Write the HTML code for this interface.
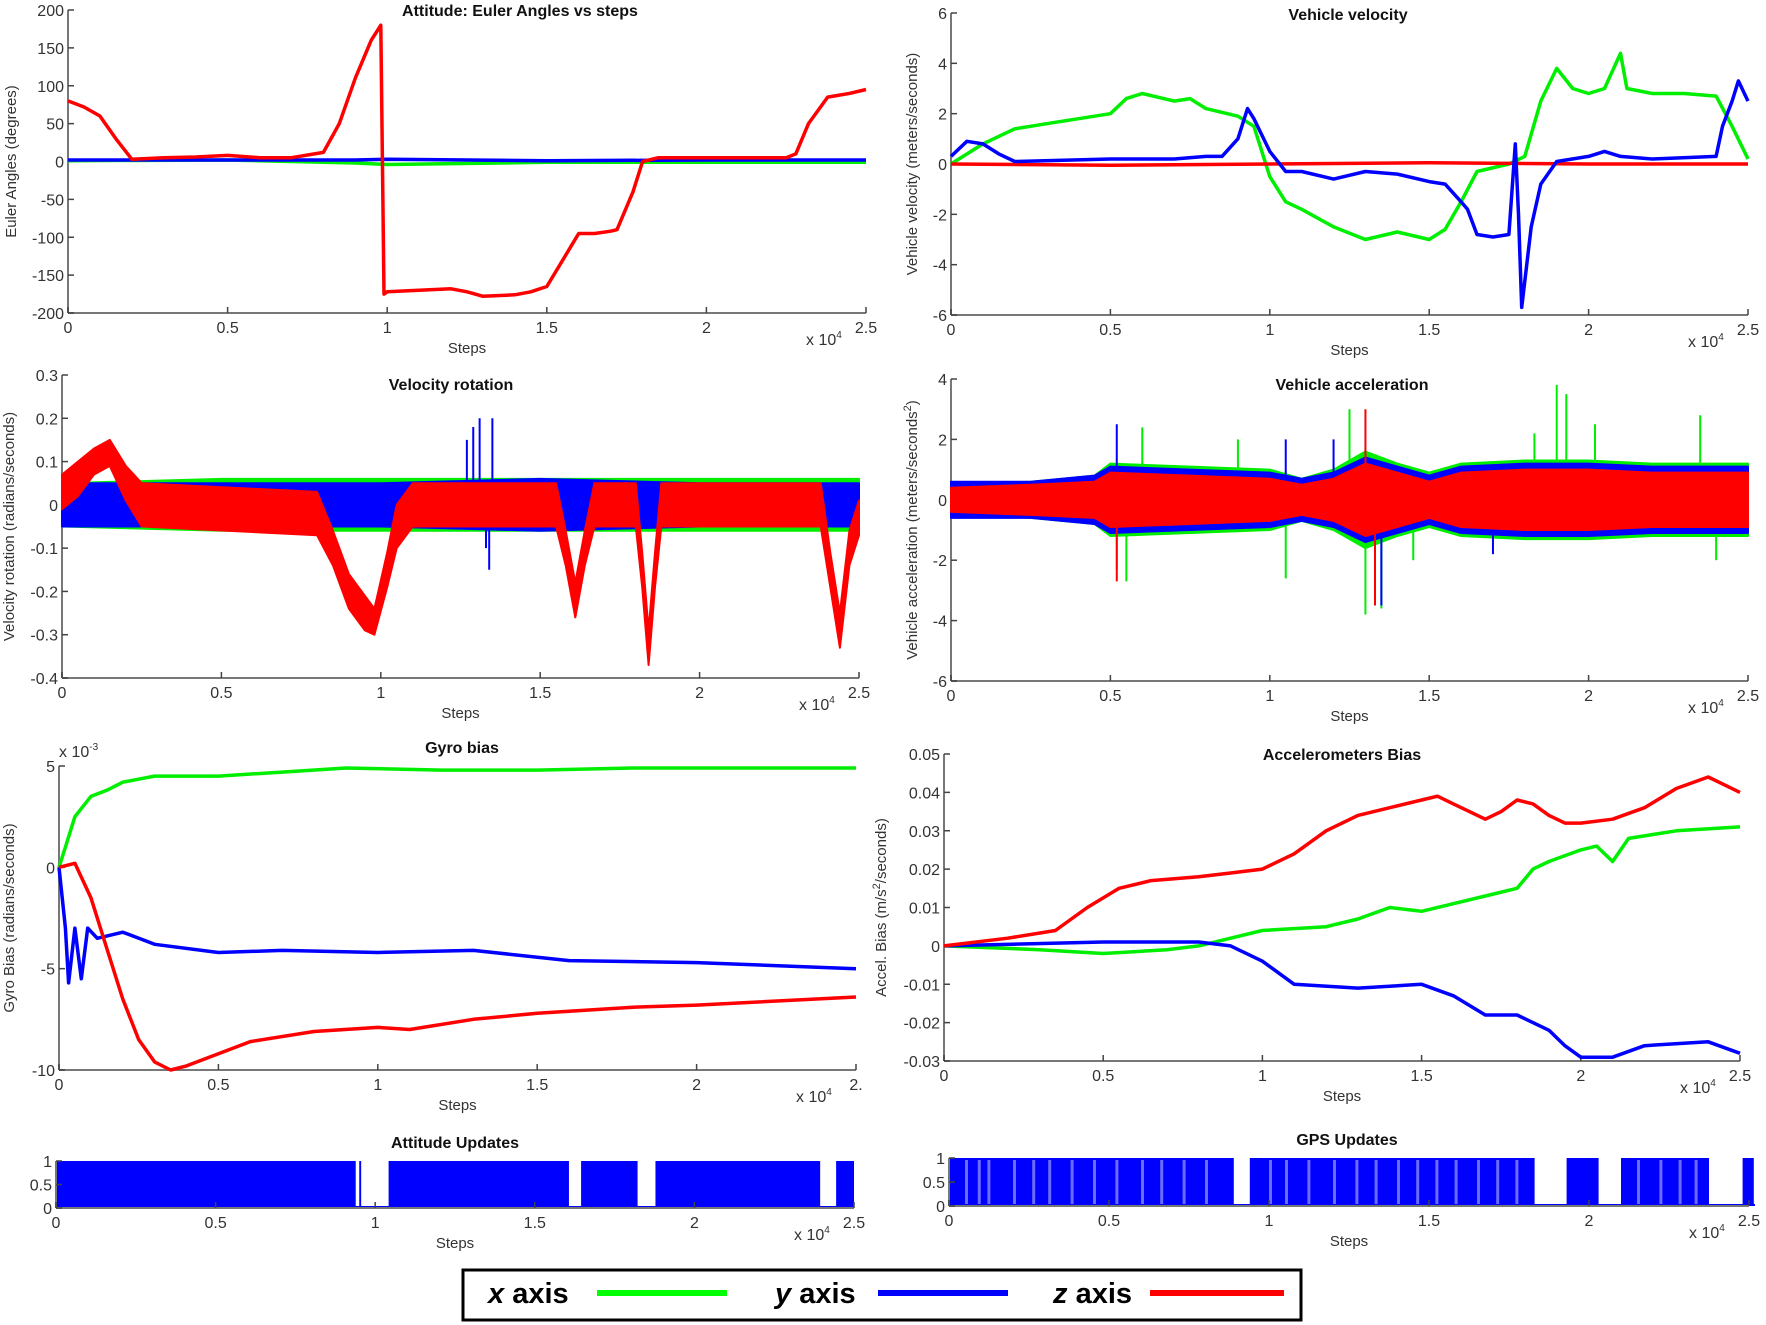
<!DOCTYPE html>
<html><head><meta charset="utf-8">
<style>
html,body{margin:0;padding:0;background:#fff;}
svg{display:block;font-family:"Liberation Sans",Arial,sans-serif;}
.tk{font-size:16px;fill:#333;}
.ttl{font-size:16px;font-weight:bold;fill:#111;}
.lab{font-size:15px;fill:#333;}
</style></head>
<body>
<svg id="fig" width="1766" height="1325" viewBox="0 0 1766 1325" xmlns="http://www.w3.org/2000/svg">
<g>
<rect x="463" y="1270" width="838" height="50" fill="#fff" stroke="#000" stroke-width="3"/>
<text x="488" y="1303" font-size="29" font-weight="bold" font-style="italic">x <tspan font-style="normal">axis</tspan></text>
<line x1="597" y1="1293" x2="727" y2="1293" stroke="#00ff00" stroke-width="6"/>
<text x="775" y="1303" font-size="29" font-weight="bold" font-style="italic">y <tspan font-style="normal">axis</tspan></text>
<line x1="878" y1="1293" x2="1008" y2="1293" stroke="#0000ff" stroke-width="6"/>
<text x="1053" y="1303" font-size="29" font-weight="bold" font-style="italic">z <tspan font-style="normal">axis</tspan></text>
<line x1="1150" y1="1293" x2="1284" y2="1293" stroke="#ff0000" stroke-width="6"/>
</g>
</svg>
<script>
// ---------- DATA (steps in units of 1e4) ----------
const eulerSteps = [0,0.05,0.1,0.15,0.2,0.3,0.4,0.5,0.6,0.7,0.8,0.85,0.9,0.95,0.98,0.99,1.0,1.1,1.2,1.25,1.3,1.4,1.45,1.5,1.55,1.6,1.65,1.7,1.72,1.77,1.8,1.85,2.0,2.25,2.28,2.32,2.38,2.45,2.5];
const eulerZ = [80,72,60,30,3,5,6,8,5,5,12,50,110,160,180,-175,-172,-170,-168,-172,-178,-176,-172,-165,-130,-95,-95,-92,-90,-40,0,5,5,5,10,50,85,90,95];
const eulerFlatSteps = [0,0.5,0.9,1.0,1.5,2.0,2.5];
const eulerX = [1,2,-2,-4,-1,-1,-1];
const eulerY = [2,2,2,3,1,2,2];
const velXSteps = [0,0.1,0.2,0.3,0.4,0.5,0.55,0.6,0.7,0.75,0.8,0.9,0.95,1.0,1.05,1.1,1.2,1.3,1.4,1.5,1.55,1.6,1.65,1.75,1.8,1.85,1.9,1.95,2.0,2.05,2.1,2.12,2.2,2.3,2.4,2.45,2.5];
const velX = [0,0.8,1.4,1.6,1.8,2.0,2.6,2.8,2.5,2.6,2.2,1.9,1.5,-0.5,-1.5,-1.8,-2.5,-3.0,-2.7,-3.0,-2.6,-1.5,-0.3,0,0.3,2.5,3.8,3.0,2.8,3.0,4.4,3.0,2.8,2.8,2.7,1.5,0.2];
const velYSteps = [0,0.05,0.1,0.15,0.2,0.5,0.7,0.8,0.85,0.9,0.93,0.95,1.0,1.05,1.1,1.2,1.3,1.4,1.5,1.55,1.6,1.62,1.65,1.7,1.75,1.77,1.78,1.79,1.82,1.85,1.9,2.0,2.05,2.1,2.2,2.4,2.42,2.45,2.47,2.5];
const velY = [0.3,0.9,0.8,0.4,0.1,0.2,0.2,0.3,0.3,1.0,2.2,1.8,0.5,-0.3,-0.3,-0.6,-0.3,-0.4,-0.7,-0.8,-1.5,-1.8,-2.8,-2.9,-2.8,0.8,-2.0,-5.7,-2.5,-0.8,0.1,0.3,0.5,0.3,0.2,0.3,1.5,2.5,3.3,2.5];
const velZSteps = [0,0.5,1.0,1.5,2.0,2.5];
const velZ = [0,-0.05,0,0.05,0,0];
const rotSteps = [0,0.05,0.1,0.15,0.2,0.25,0.8,0.85,0.9,0.95,0.98,1.02,1.05,1.1,1.55,1.58,1.61,1.64,1.67,1.8,1.82,1.84,1.86,1.88,2.38,2.41,2.44,2.47,2.5];
const rotZCenter = [0.03,0.06,0.1,0.12,0.05,0,-0.02,-0.1,-0.2,-0.25,-0.27,-0.15,-0.05,0,0,-0.1,-0.22,-0.1,0,0,-0.15,-0.33,-0.15,0,0,-0.15,-0.29,-0.1,-0.03];
const rotZAmp = [0.04,0.04,0.03,0.03,0.04,0.05,0.05,0.04,0.04,0.04,0.03,0.04,0.05,0.05,0.05,0.04,0.04,0.04,0.05,0.05,0.04,0.04,0.04,0.05,0.05,0.04,0.04,0.04,0.04];
const rotXYSteps = [0,0.5,1.0,1.5,2.0,2.5];
const rotXAmp = [0.05,0.06,0.06,0.06,0.06,0.06];
const rotYAmp = [0.05,0.05,0.05,0.06,0.05,0.05];
const rotSpikeSteps = [1.29,1.31,1.35,1.34,1.33,1.27];
const rotSpikeVals = [0.18,0.2,0.2,-0.15,-0.1,0.15];
const accSteps = [0,0.25,0.45,0.5,0.75,1.0,1.1,1.2,1.3,1.4,1.5,1.6,1.8,2.0,2.2,2.5];
const accXAmp = [0.5,0.6,0.8,1.2,1.1,1.0,0.7,1.0,1.6,1.2,0.9,1.2,1.3,1.3,1.2,1.2];
const accYAmp = [0.6,0.6,0.8,1.1,1.0,0.9,0.7,0.9,1.4,1.1,0.8,1.1,1.2,1.2,1.1,1.1];
const accZAmp = [0.4,0.5,0.6,0.9,0.8,0.7,0.5,0.7,1.2,0.9,0.6,0.9,1.0,1.0,0.9,0.9];
const accXSpikeSteps = [0.52,0.55,0.9,1.05,1.25,1.3,1.35,1.45,1.83,1.9,1.93,2.02,2.35,2.4,0.6];
const accXSpikeVals = [-2.3,-2.7,2.0,-2.6,3.0,-3.8,-3.6,-2.0,2.2,3.8,3.5,2.5,2.8,-2.0,2.4];
const accYSpikeSteps = [0.52,1.2,1.35,1.7,1.05];
const accYSpikeVals = [2.5,2.0,-3.5,-1.8,2.0];
const accZSpikeSteps = [0.52,1.3,1.33];
const accZSpikeVals = [-2.7,3.0,-3.5];
const gxSteps = [0,0.02,0.05,0.1,0.15,0.2,0.3,0.5,0.7,0.9,1.2,1.5,1.8,2.5];
const gyroX = [0,1,2.5,3.5,3.8,4.2,4.5,4.5,4.7,4.9,4.8,4.8,4.9,4.9];
const gySteps = [0,0.02,0.03,0.05,0.07,0.09,0.12,0.2,0.3,0.5,0.7,1.0,1.3,1.6,2.0,2.5];
const gyroY = [0,-3,-5.7,-3,-5.5,-3,-3.5,-3.2,-3.8,-4.2,-4.1,-4.2,-4.1,-4.6,-4.7,-5.0];
const gzSteps = [0,0.05,0.1,0.15,0.2,0.25,0.3,0.35,0.4,0.5,0.6,0.8,1.0,1.1,1.3,1.5,1.8,2.0,2.5];
const gyroZ = [0,0.2,-1.5,-4,-6.5,-8.5,-9.6,-10,-9.8,-9.2,-8.6,-8.1,-7.9,-8.0,-7.5,-7.2,-6.9,-6.8,-6.4];
const azSteps = [0,0.2,0.35,0.45,0.55,0.65,0.8,0.9,1.0,1.1,1.2,1.3,1.4,1.5,1.55,1.6,1.65,1.7,1.75,1.8,1.85,1.9,1.95,2.0,2.1,2.2,2.3,2.4,2.45,2.5];
const abZ = [0,0.002,0.004,0.01,0.015,0.017,0.018,0.019,0.02,0.024,0.03,0.034,0.036,0.038,0.039,0.037,0.035,0.033,0.035,0.038,0.037,0.034,0.032,0.032,0.033,0.036,0.041,0.044,0.042,0.040];
const axSteps = [0,0.3,0.5,0.7,0.8,0.9,1.0,1.2,1.3,1.4,1.5,1.6,1.7,1.8,1.85,1.9,2.0,2.05,2.1,2.15,2.3,2.5];
const abX = [0,-0.001,-0.002,-0.001,0,0.002,0.004,0.005,0.007,0.01,0.009,0.011,0.013,0.015,0.02,0.022,0.025,0.026,0.022,0.028,0.03,0.031];
const aySteps = [0,0.5,0.8,0.9,1.0,1.1,1.3,1.5,1.6,1.7,1.8,1.9,1.95,2.0,2.1,2.2,2.4,2.5];
const abY = [0,0.001,0.001,0,-0.004,-0.01,-0.011,-0.01,-0.013,-0.018,-0.018,-0.022,-0.026,-0.029,-0.029,-0.026,-0.025,-0.028];
const attStarts = [0,0.95,1.042,1.645,1.878,2.444];
const attEnds = [0.939,0.956,1.607,1.822,2.394,2.5];
const gpsStarts = [0,0.94,1.93,2.10,2.48];
const gpsEnds = [0.89,1.83,2.03,2.375,2.515];
const gpsGaps = [0.05,0.09,0.12,0.2,0.26,0.31,0.38,0.45,0.52,0.6,0.66,0.73,0.8,1.0,1.05,1.12,1.2,1.27,1.33,1.4,1.46,1.52,1.58,1.65,1.71,1.77,2.15,2.22,2.28,2.33];

const NS = 'http://www.w3.org/2000/svg';
const svg = document.getElementById('fig');
function el(tag, attrs, parent, txt){
  const e = document.createElementNS(NS, tag);
  for (const k in attrs) e.setAttribute(k, attrs[k]);
  if (txt !== undefined) e.textContent = txt;
  (parent || svg).appendChild(e);
  return e;
}
const C = {x:'#00ee00', y:'#0000ff', z:'#ff0000'};
function panel(p){
  const g = el('g', {});
  
  
  p.sx = v => p.x0 + (v/2.5)*(p.x1-p.x0);
  p.sy = v => p.yb + (v-p.ymin)/(p.ymax-p.ymin)*(p.yt-p.yb);
  p.g = g;
  return p;
}
function axes(p){
  const g = p.g;
  const ax = el('g', {}, g);
  
  
  el('line', {x1:p.x0, y1:p.yt, x2:p.x0, y2:p.yb, stroke:'#777', 'stroke-width':2}, ax);
  el('line', {x1:p.x0, y1:p.yb, x2:p.x1, y2:p.yb, stroke:'#777', 'stroke-width':2}, ax);
  p.yticks.forEach((v,i)=>{
    const y = p.sy(v);
    el('line', {x1:p.x0, y1:y, x2:p.x0+6, y2:y, stroke:'#444', 'stroke-width':1.5}, ax);
    const t = el('text', {x:p.x0-4, y:y+6, 'text-anchor':'end', class:'tk'}, ax, p.ylabels[i]);
    
    
  });
  const xt = [0,0.5,1,1.5,2,2.5];
  const xl = p.xlabels || ['0','0.5','1','1.5','2','2.5'];
  xt.forEach((v,i)=>{
    const x = p.sx(v);
    el('line', {x1:x, y1:p.yb, x2:x, y2:p.yb-6, stroke:'#444', 'stroke-width':1.5}, ax);
    const t = el('text', {x:x, y:p.yb+20, 'text-anchor':'middle', class:'tk'}, ax, xl[i]);
    
    
  });
  const tt = el('text', {x:p.tx, y:p.ty, 'text-anchor':'middle', class:'ttl'}, g, p.title);
  
  
  const xs = el('text', {x:(p.x0+p.x1)/2, y:p.yb+40, 'text-anchor':'middle', class:'lab'}, g, 'Steps');
  
  
  const xe = el('text', {x:p.x1-60, y:p.yb+32, class:'tk', 'font-size':'15'}, g);
  
  
  xe.innerHTML = 'x 10<tspan dy="-7" font-size="10">4</tspan>';
  if (p.ytitle){
    const cy = (p.yt+p.yb)/2;
    const yt = el('text', {x:p.ylx, y:cy, 'text-anchor':'middle', class:'lab', transform:'rotate(-90 '+p.ylx+' '+cy+')'}, g);
    
    
    yt.innerHTML = p.ytitle;
  }
}
function line(p, xs, ys, color, name, w){
  const pts = xs.map((s,i)=>p.sx(s).toFixed(1)+','+p.sy(ys[i]).toFixed(1)).join(' ');
  const e = el('polyline', {points:pts, fill:'none', stroke:color, 'stroke-width':w||3.5, 'stroke-linejoin':'round'}, p.g);
  
  
}
function band(p, xs, center, amp, color, name){
  const up = xs.map((s,i)=>p.sx(s).toFixed(1)+','+p.sy((center?center[i]:0)+amp[i]).toFixed(1));
  const lo = xs.map((s,i)=>p.sx(s).toFixed(1)+','+p.sy((center?center[i]:0)-amp[i]).toFixed(1)).reverse();
  const e = el('polygon', {points:up.concat(lo).join(' '), fill:color, stroke:color, 'stroke-width':2, 'stroke-linejoin':'round'}, p.g);
  
  
}
function spikes(p, xs, vs, color, name){
  xs.forEach((s,i)=>{
    const e = el('line', {x1:p.sx(s), y1:p.sy(0), x2:p.sx(s), y2:p.sy(vs[i]), stroke:color, 'stroke-width':2}, p.g);
    
    
  });
}
function rng(a,b,st){const r=[];for(let v=a;v<=b+1e-9;v+=st)r.push(+v.toFixed(4));return r;}

let p = panel({name:'euler-angles-panel', x0:68, x1:866, yt:10, yb:313, ymin:-200, ymax:200,
  title:'Attitude: Euler Angles vs steps', tx:520, ty:16, ytitle:'Euler Angles (degrees)', ylx:16});
p.yticks = rng(-200,200,50); p.ylabels = p.yticks.map(String);
axes(p);
line(p, eulerFlatSteps, eulerX, C.x, 'euler-x-line');
line(p, eulerFlatSteps, eulerY, C.y, 'euler-y-line');
line(p, eulerSteps, eulerZ, C.z, 'euler-z-line');

p = panel({name:'vehicle-velocity-panel', x0:951, x1:1748, yt:13, yb:315, ymin:-6, ymax:6,
  title:'Vehicle velocity', tx:1348, ty:20, ytitle:'Vehicle velocity (meters/seconds)', ylx:917});
p.yticks = rng(-6,6,2); p.ylabels = p.yticks.map(String);
axes(p);
line(p, velXSteps, velX, C.x, 'velocity-x-line');
line(p, velZSteps, velZ, C.z, 'velocity-z-line');
line(p, velYSteps, velY, C.y, 'velocity-y-line');

p = panel({name:'velocity-rotation-panel', x0:62, x1:859, yt:375, yb:678, ymin:-0.4, ymax:0.3,
  title:'Velocity rotation', tx:451, ty:390, ytitle:'Velocity rotation (radians/seconds)', ylx:14});
p.yticks = rng(-0.4,0.3,0.1); p.ylabels = p.yticks.map(v=>String(+v.toFixed(1)));
axes(p);
band(p, rotXYSteps, null, rotXAmp, C.x, 'rotation-x-band');
band(p, rotXYSteps, null, rotYAmp, C.y, 'rotation-y-band');
spikes(p, rotSpikeSteps, rotSpikeVals, C.y, 'rotation-y-spike');
band(p, rotSteps, rotZCenter, rotZAmp, C.z, 'rotation-z-band');

p = panel({name:'vehicle-acceleration-panel', x0:951, x1:1748, yt:379, yb:681, ymin:-6, ymax:4,
  title:'Vehicle acceleration', tx:1352, ty:390, ytitle:'Vehicle acceleration (meters/seconds<tspan dy="-6" font-size="11">2</tspan><tspan dy="6">)</tspan>', ylx:917});
p.yticks = rng(-6,4,2); p.ylabels = p.yticks.map(String);
axes(p);
spikes(p, accXSpikeSteps, accXSpikeVals, C.x, 'acceleration-x-spike');
band(p, accSteps, null, accXAmp, C.x, 'acceleration-x-band');
spikes(p, accYSpikeSteps, accYSpikeVals, C.y, 'acceleration-y-spike');
band(p, accSteps, null, accYAmp, C.y, 'acceleration-y-band');
spikes(p, accZSpikeSteps, accZSpikeVals, C.z, 'acceleration-z-spike');
band(p, accSteps, null, accZAmp, C.z, 'acceleration-z-band');

p = panel({name:'gyro-bias-panel', x0:59, x1:856, yt:766, yb:1070, ymin:-10, ymax:5,
  title:'Gyro bias', tx:462, ty:753, ytitle:'Gyro Bias (radians/seconds)', ylx:14,
  xlabels:['0','0.5','1','1.5','2','2.']});
p.yticks = [-10,-5,0,5]; p.ylabels = p.yticks.map(String);
axes(p);
const ge = el('text', {x:59, y:757, class:'tk', 'font-size':'15'}, p.g);


ge.innerHTML = 'x 10<tspan dy="-7" font-size="10">-3</tspan>';
line(p, gxSteps, gyroX, C.x, 'gyro-x-line');
line(p, gySteps, gyroY, C.y, 'gyro-y-line');
line(p, gzSteps, gyroZ, C.z, 'gyro-z-line');

p = panel({name:'accel-bias-panel', x0:944, x1:1740, yt:754, yb:1061, ymin:-0.03, ymax:0.05,
  title:'Accelerometers Bias', tx:1342, ty:760, ytitle:'Accel. Bias (m/s<tspan dy="-6" font-size="11">2</tspan><tspan dy="6">/seconds)</tspan>', ylx:886});
p.yticks = rng(-0.03,0.05,0.01); p.ylabels = p.yticks.map(v=>String(+v.toFixed(2)));
axes(p);
line(p, axSteps, abX, C.x, 'accel-bias-x-line');
line(p, aySteps, abY, C.y, 'accel-bias-y-line');
line(p, azSteps, abZ, C.z, 'accel-bias-z-line');

p = panel({name:'attitude-updates-panel', x0:56, x1:854, yt:1161, yb:1208, ymin:0, ymax:1,
  title:'Attitude Updates', tx:455, ty:1148});
p.yticks = [0,0.5,1]; p.ylabels = ['0','0.5','1'];
attStarts.forEach((s,i)=>{
  const r = el('rect', {x:p.sx(s), y:p.sy(1), width:p.sx(attEnds[i])-p.sx(s), height:p.sy(0)-p.sy(1), fill:'#0000ff'}, p.g);
  
  
});
el('line', {x1:p.x0, y1:p.yb-1, x2:p.x1, y2:p.yb-1, stroke:'#0000ff', 'stroke-width':2}, p.g);
axes(p);

p = panel({name:'gps-updates-panel', x0:949, x1:1749, yt:1158, yb:1206, ymin:0, ymax:1,
  title:'GPS Updates', tx:1347, ty:1145});
p.yticks = [0,0.5,1]; p.ylabels = ['0','0.5','1'];
gpsStarts.forEach((s,i)=>{
  const r = el('rect', {x:p.sx(s), y:p.sy(1), width:p.sx(gpsEnds[i])-p.sx(s), height:p.sy(0)-p.sy(1), fill:'#0000ff'}, p.g);
  
  
});
gpsGaps.forEach(s=>{
  const r = el('rect', {x:p.sx(s), y:p.sy(1)+2, width:3, height:p.sy(0)-p.sy(1)-4, fill:'#6b6bff'}, p.g);
  
  
});
el('line', {x1:p.x0, y1:p.yb-1, x2:p.x1+6, y2:p.yb-1, stroke:'#0000ff', 'stroke-width':2}, p.g);
axes(p);
</script>
</body></html>
